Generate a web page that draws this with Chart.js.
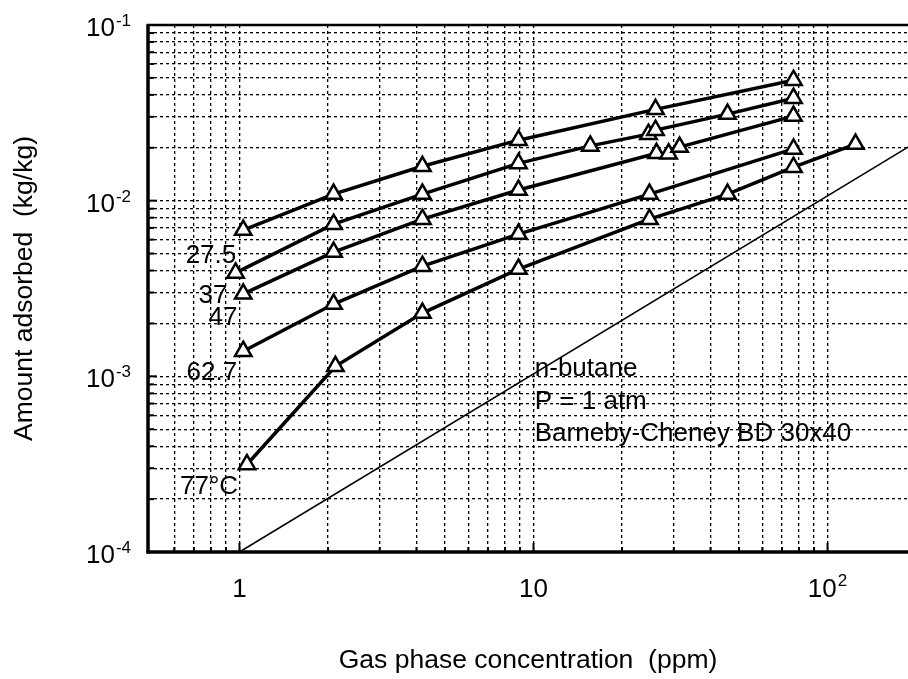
<!DOCTYPE html>
<html>
<head>
<meta charset="utf-8">
<script src="https://cdn.jsdelivr.net/npm/chart.js@4.4.0/dist/chart.umd.min.js"></script>
<style>
  html, body { margin:0; padding:0; background:#fff; }
  #wrap { width:908px; height:679px; position:relative; }
</style>
</head>
<body>
<div id="wrap"><canvas id="c" width="908" height="679"></canvas></div>
<script>
// isotherms, n-butane on BD 30x40
const X_275 = [1.03, 2.09, 4.19, 8.89, 26.0, 76.6];
const Y_275 = [0.0068, 0.0109, 0.0157, 0.0221, 0.0331, 0.0485];
const X_37  = [0.97, 2.09, 4.19, 8.89, 15.6, 24.6, 26.0, 45.7, 76.6];
const Y_37  = [0.00388, 0.00735, 0.0109, 0.0163, 0.0205, 0.0239, 0.0252, 0.0311, 0.0383];
const X_47  = [1.03, 2.09, 4.19, 8.89, 26.2, 28.8, 31.4, 76.6];
const Y_47  = [0.00295, 0.00510, 0.00785, 0.0115, 0.0186, 0.0185, 0.0202, 0.0303];
const X_627 = [1.03, 2.09, 4.19, 8.89, 24.8, 76.6];
const Y_627 = [0.00139, 0.00258, 0.00424, 0.00645, 0.0109, 0.0197];
const X_77  = [1.06, 2.12, 4.19, 8.89, 24.8, 45.7, 76.6, 124.5];
const Y_77  = [0.000315, 0.00114, 0.00229, 0.00408, 0.00785, 0.0109, 0.0155, 0.0210];
// straight reference line
const X_REF = [1, 200];
const Y_REF = [0.0001, 0.0215];

const SERIES_LABELS = ['27.5', '37', '47', '62.7', '77°C'];
const LABEL_X = [0.80, 0.813, 0.879, 0.806, 0.788];
const LABEL_Y = [0.00498, 0.00294, 0.00221, 0.00107, 0.000241];

const NOTE_LINES = ['n-butane', 'P = 1 atm', 'Barneby-Cheney BD 30x40'];

const X_TICKS = [1, 10, 100];
const X_TICK_BASE = ['1', '10', '10'];
const X_TICK_EXP  = ['', '', '2'];
const Y_TICKS = [1e-4, 1e-3, 1e-2, 1e-1];
const Y_TICK_BASE = ['10', '10', '10', '10'];
const Y_TICK_EXP  = ['-4', '-3', '-2', '-1'];

const X_MIN = 0.4886, X_MAX = 187.8;
const Y_MIN = 1e-4, Y_MAX = 1e-1;

const FONT = '"Liberation Sans", Arial, Helvetica, sans-serif';

function pts(xs, ys){ return xs.map((x,i)=>({x:x, y:ys[i]})); }

function decadeGrid(lo, hi){
  const out = [];
  for (let e = -6; e <= 4; e++){
    for (let m = 1; m <= 9; m++){
      const v = Number((m * Math.pow(10, e)).toPrecision(6));
      if (v > lo && v <= hi * 1.0001) out.push(v);
    }
  }
  return out;
}
const GRID_X = decadeGrid(0.55, X_MAX);          // 0.5 sits on the frame
const GRID_Y = decadeGrid(Y_MIN * 0.999, Y_MAX);

function iso(xs, ys){
  return {
    data: pts(xs, ys),
    borderColor:'#000', borderWidth:3.5, tension:0,
    pointStyle:'triangle', pointRadius:9.5, pointBorderWidth:2.5,
    pointBackgroundColor:'#fff', pointBorderColor:'#000'
  };
}

const frameAndText = {
  id:'frameAndText',
  afterDraw(chart){
    const ctx = chart.ctx, a = chart.chartArea;
    const xs = chart.scales.x, ys = chart.scales.y;
    ctx.save();
    // inward tick marks
    ctx.strokeStyle = '#000'; ctx.lineWidth = 2;
    GRID_X.forEach(v=>{
      const px = xs.getPixelForValue(v);
      const len = X_TICKS.includes(v) ? 9 : 5;
      ctx.beginPath(); ctx.moveTo(px, a.bottom); ctx.lineTo(px, a.bottom - len); ctx.stroke();
    });
    GRID_Y.forEach(v=>{
      const py = ys.getPixelForValue(v);
      const len = Y_TICKS.some(t=>Math.abs(t-v)/t < 1e-6) ? 9 : 6;
      ctx.beginPath(); ctx.moveTo(a.left, py); ctx.lineTo(a.left + len, py); ctx.stroke();
    });
    // frame: left, bottom, top
    ctx.lineWidth = 3.5;
    ctx.beginPath(); ctx.moveTo(a.left, a.top); ctx.lineTo(a.left, a.bottom + 1.5); ctx.stroke();
    ctx.beginPath(); ctx.moveTo(a.left - 1.5, a.bottom); ctx.lineTo(a.right, a.bottom); ctx.stroke();
    ctx.lineWidth = 2.5;
    ctx.beginPath(); ctx.moveTo(a.left - 1.5, a.top); ctx.lineTo(a.right, a.top); ctx.stroke();

    ctx.fillStyle = '#000';
    // y tick labels with exponents
    Y_TICKS.forEach((v,i)=>{
      const py = ys.getPixelForValue(v);
      const right = a.left - 17;
      ctx.font = '17px ' + FONT; ctx.textAlign = 'right'; ctx.textBaseline = 'alphabetic';
      const ew = ctx.measureText(Y_TICK_EXP[i]).width;
      ctx.fillText(Y_TICK_EXP[i], right, py + 1);
      ctx.font = '26px ' + FONT;
      ctx.fillText(Y_TICK_BASE[i], right - ew - 1, py + 11);
    });
    // x tick labels
    X_TICKS.forEach((v,i)=>{
      const px = xs.getPixelForValue(v);
      ctx.font = '26px ' + FONT; ctx.textAlign = 'left'; ctx.textBaseline = 'alphabetic';
      const bw = ctx.measureText(X_TICK_BASE[i]).width;
      ctx.font = '17px ' + FONT;
      const ew = X_TICK_EXP[i] ? ctx.measureText(X_TICK_EXP[i]).width + 1 : 0;
      const left = px - (bw + ew) / 2;
      ctx.font = '26px ' + FONT;
      ctx.fillText(X_TICK_BASE[i], left, 597);
      if (X_TICK_EXP[i]){ ctx.font = '17px ' + FONT; ctx.fillText(X_TICK_EXP[i], left + bw + 1, 586); }
    });
    // series labels
    ctx.font = '26px ' + FONT; ctx.textAlign = 'center'; ctx.textBaseline = 'alphabetic';
    SERIES_LABELS.forEach((t,i)=>{
      ctx.fillText(t, xs.getPixelForValue(LABEL_X[i]), ys.getPixelForValue(LABEL_Y[i]) + 9);
    });
    // note block
    ctx.textAlign = 'left';
    const nx = xs.getPixelForValue(10.1), ny = ys.getPixelForValue(1e-3);
    NOTE_LINES.forEach((t,i)=>{ ctx.fillText(t, nx, ny + i * 32.5); });
    ctx.restore();
  }
};

new Chart(document.getElementById('c'), {
  type:'line',
  data:{ datasets:[
    iso(X_275, Y_275), iso(X_37, Y_37), iso(X_47, Y_47), iso(X_627, Y_627), iso(X_77, Y_77),
    { data: pts(X_REF, Y_REF), borderColor:'#000', borderWidth:1.6, pointRadius:0, tension:0 }
  ]},
  options:{
    responsive:false, animation:false, devicePixelRatio:1,
    layout:{ padding:{ top:25, right:0, left:0, bottom:0 }, autoPadding:false },
    plugins:{ legend:{display:false}, tooltip:{enabled:false} },
    scales:{
      x:{
        type:'logarithmic', min:X_MIN, max:X_MAX,
        afterBuildTicks(s){ s.ticks = GRID_X.map(v=>({value:v})); },
        afterFit(s){ s.height = 127; },
        ticks:{ display:false },
        grid:{ color:'#000', lineWidth:1.3, drawTicks:false },
        border:{ display:false, dash:[3,3] },
        title:{ display:true, text:'Gas phase concentration  (ppm)', color:'#000',
                font:{ family:FONT, size:26.5 }, padding:{ top:0, bottom:2 } }
      },
      y:{
        type:'logarithmic', min:Y_MIN, max:Y_MAX,
        afterBuildTicks(s){ s.ticks = GRID_Y.map(v=>({value:v})); },
        afterFit(s){ s.width = 148; },
        ticks:{ display:false },
        grid:{ color:'#000', lineWidth:1.3, drawTicks:false },
        border:{ display:false, dash:[3,3] },
        title:{ display:true, text:'Amount adsorbed  (kg/kg)', color:'#000',
                font:{ family:FONT, size:26.5 }, padding:{ top:9, bottom:0 } }
      }
    }
  },
  plugins:[frameAndText]
});
</script>
</body>
</html>
